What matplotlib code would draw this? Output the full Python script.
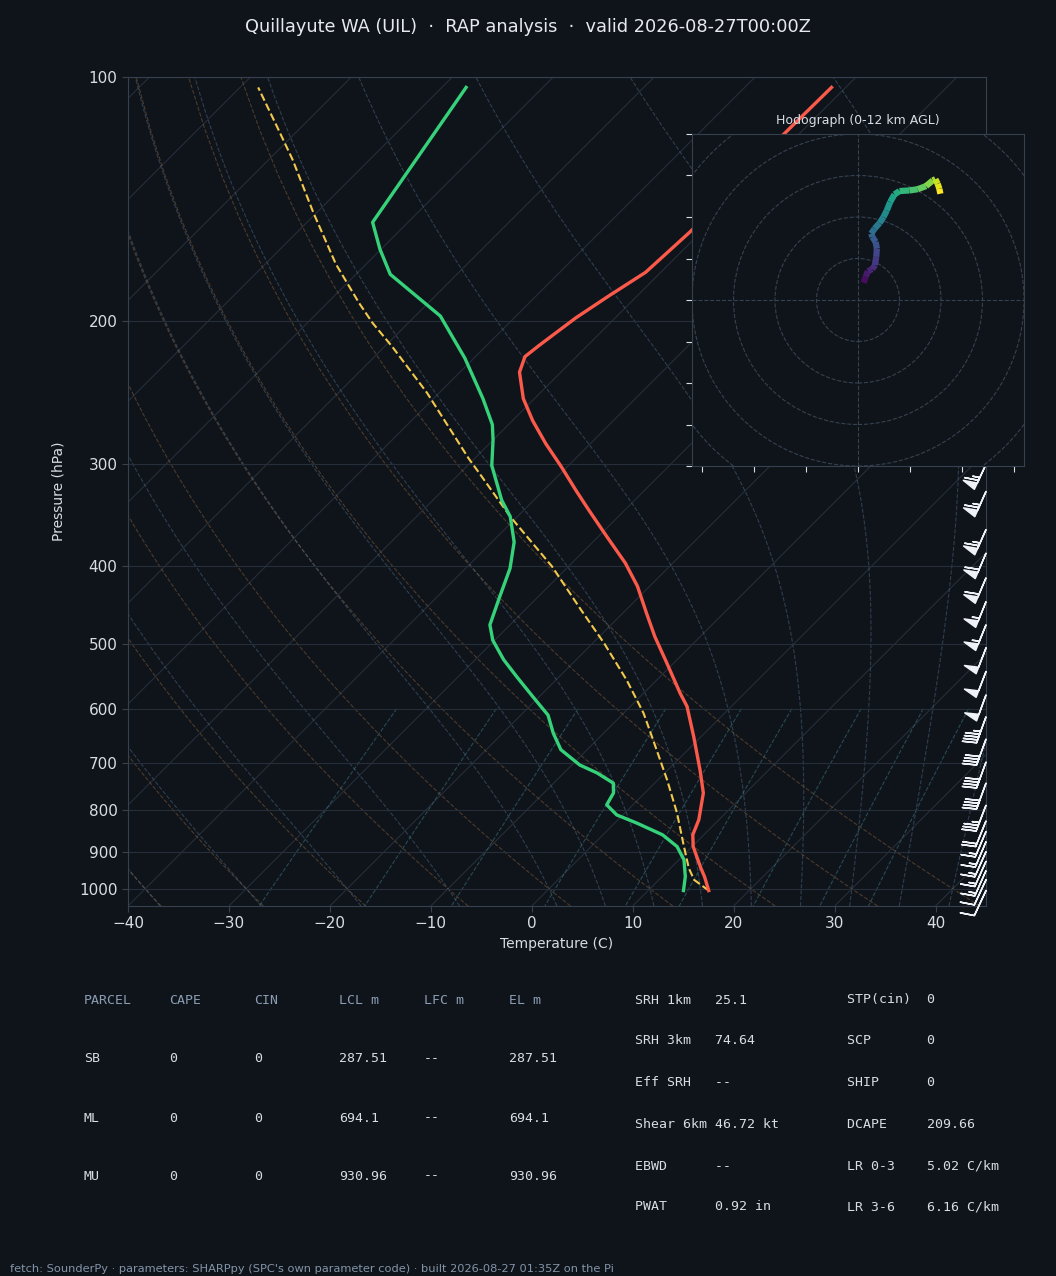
import numpy as np
import matplotlib
matplotlib.use('Agg')
import matplotlib.pyplot as plt
from matplotlib import transforms
from matplotlib.collections import LineCollection
from matplotlib.patches import Circle
from matplotlib.ticker import NullLocator

# ---- sounding values ----
temp_p = [1005, 966, 943, 906, 887, 858, 822, 762, 714, 650, 596, 574, 527, 489, 458,
          424, 397, 368, 342, 323, 302, 283, 265, 249, 231, 221, 214, 198, 186, 174,
          155, 118, 103]
temp_c = [16.0, 14.2, 13.0, 11.1, 10.1, 8.9, 8.0, 5.8, 3.2, -0.7, -4.4, -6.4, -10.7, -14.5,
          -17.6, -21.2, -24.7, -29.2, -33.5, -36.8, -40.6, -44.4, -48.0, -51.1, -54.1,
          -55.1, -54.8, -53.9, -52.8, -51.5, -51.1, -51.5, -51.4]

dew_p = [1005, 966, 921, 887, 858, 830, 811, 788, 762, 741, 720, 704, 674, 643, 611, 594,
         582, 548, 522, 494, 473, 437, 403, 374, 348, 332, 301, 280, 268, 249, 222, 197,
         175, 163, 151, 103]
dew_c = [13.5, 12.3, 10.5, 8.5, 5.9, 2.2, -0.6, -2.6, -3.1, -4.1, -6.7, -9.2, -12.6, -15.0,
         -17.3, -19.1, -20.4, -24.2, -27.2, -30.2, -32.0, -33.8, -35.6, -37.8, -40.7, -43.2,
         -47.6, -50.0, -51.6, -55.1, -60.9, -67.5, -76.6, -80.1, -83.5, -87.6]

parcel_p = [1005, 975, 943, 879, 807, 734, 656, 608, 582, 553, 498, 453, 401, 348, 308,
            295, 245, 215, 201, 190, 170, 147, 126.5, 115, 103]
parcel_c = [16.0, 13.5, 11.8, 8.8, 5.2, 0.9, -4.4, -8.0, -10.3, -13.0, -18.9, -24.5, -31.6,
            -40.7, -48.0, -50.6, -61.2, -69.2, -73.5, -76.8, -83.0, -90.3, -97.6, -102.5,
            -108.2]

# wind barbs (knots, direction wind comes from)
barb_p = [1005, 975, 950, 925, 900, 875, 850, 825, 789, 741, 698, 654, 614, 577, 540,
          505, 473, 443, 414, 386, 361, 324, 300]
barb_spd = [10, 10, 15, 15, 15, 15, 15, 20, 35, 40, 40, 40, 45, 50, 50,
            50, 55, 55, 60, 60, 65, 65, 65]
barb_dir = [205, 205, 204, 204, 204, 203, 203, 202, 201, 200, 200, 200, 200, 200, 201,
            201, 202, 202, 203, 203, 204, 204, 205]

# hodograph (knots) and height (km AGL)
hodo_u = [2.7, 3.7, 4.8, 6.9, 8.2, 8.8, 9.1, 8.5, 6.9, 6.4, 8.0, 10.4, 12.3, 13.9, 15.5,
          17.6, 20.0, 24.8, 28.8, 32.8, 36.0, 37.3, 38.4, 39.2, 39.7]
hodo_v = [8.3, 11.2, 13.9, 14.9, 16.8, 20.8, 24.8, 28.0, 30.4, 32.0, 34.4, 37.1, 40.0, 43.2,
          47.2, 50.9, 52.5, 52.8, 53.4, 54.9, 57.6, 58.2, 56.0, 53.6, 51.2]
hodo_z = [0.0, 0.4, 0.8, 1.2, 1.6, 2.0, 2.5, 3.0, 3.4, 3.8, 4.3, 4.8, 5.3, 5.8, 6.3, 6.8,
          7.3, 7.9, 8.5, 9.1, 9.8, 10.4, 11.0, 11.5, 12.0]

parcel_cols = ['PARCEL', 'CAPE', 'CIN', 'LCL m', 'LFC m', 'EL m']
parcel_rows = [['SB', '0', '0', '287.51', '--', '287.51'],
               ['ML', '0', '0', '694.1', '--', '694.1'],
               ['MU', '0', '0', '930.96', '--', '930.96']]
params_left = [('SRH 1km', '25.1'), ('SRH 3km', '74.64'), ('Eff SRH', '--'),
               ('Shear 6km', '46.72 kt'), ('EBWD', '--'), ('PWAT', '0.92 in')]
params_right = [('STP(cin)', '0'), ('SCP', '0'), ('SHIP', '0'), ('DCAPE', '209.66'),
                ('LR 0-3', '5.02 C/km'), ('LR 3-6', '6.16 C/km')]

BG = '#0f141b'
TXT = '#d8dde4'
SPINE = '#36414f'
GRID = '#262e39'

# thermodynamics for the background reference lines
RD, CP, LV, EPS = 287.04, 1005.7, 2.501e6, 0.622


def sat_vp(tk):
    return 6.112 * np.exp(17.67 * (tk - 273.15) / (tk - 29.65))


def moist_rate(tk, p):
    es = sat_vp(tk)
    rs = EPS * es / (p - es)
    return (RD * tk + LV * rs) / (CP + LV * LV * rs * EPS / (RD * tk * tk))


def moist_adiabat(t0c, p_top, p_bot, n=120):
    out_p, out_t = [], []
    for end, steps in ((p_top, n), (p_bot, 6)):
        lnp = np.linspace(np.log(1000.0), np.log(end), steps)
        tk = t0c + 273.15
        ps, ts = [1000.0], [tk]
        for a, b in zip(lnp[:-1], lnp[1:]):
            h = b - a
            pa, pm, pb = np.exp(a), np.exp(a + h / 2), np.exp(b)
            k1 = moist_rate(tk, pa)
            k2 = moist_rate(tk + h * k1 / 2, pm)
            k3 = moist_rate(tk + h * k2 / 2, pm)
            k4 = moist_rate(tk + h * k3, pb)
            tk = tk + h * (k1 + 2 * k2 + 2 * k3 + k4) / 6
            ps.append(pb)
            ts.append(tk)
        out_p.append(ps)
        out_t.append(ts)
    p = np.concatenate([out_p[1][::-1], out_p[0][1:]])
    t = np.concatenate([out_t[1][::-1], out_t[0][1:]]) - 273.15
    return p, t


fig = plt.figure(figsize=(10.56, 12.76), dpi=100, facecolor=BG)
W, H = 1056.0, 1276.0
ax = fig.add_axes([128 / W, 1 - 906 / H, 858 / W, 829 / H], facecolor=BG)
ax.set_yscale('log')
ax.set_xlim(-40, 45)
ax.set_ylim(1050, 100)
ax.set_autoscale_on(False)

# 45 degree skew of isotherms in pixel space
pos = ax.get_position()
shear = np.arctan((pos.height * H) / (pos.width * W))
skew = ax.transScale + ax.transLimits + transforms.Affine2D().skew(shear, 0) + ax.transAxes

p_bg = np.linspace(1050, 100, 60)
for t0 in np.arange(-130, 50, 10):
    ax.plot([t0, t0], [1050, 100], transform=skew, color=GRID, lw=0.8, zorder=1)
for t0 in np.arange(-40, 46, 10):
    td = (t0 + 273.15) * (p_bg / 1000.0) ** 0.2857 - 273.15
    ax.plot(td, p_bg, transform=skew, color='#a8743f', alpha=0.4, lw=0.8, ls='--', zorder=1)
for t0 in np.concatenate((np.arange(-40, 0, 10), np.arange(0, 46, 5))):
    mp, mt = moist_adiabat(t0, 100.0, 1050.0)
    ax.plot(mt, mp, transform=skew, color='#56718d', alpha=0.45, lw=0.8, ls='--', zorder=1)
p_mix = np.linspace(600, 1050, 30)
for w in [0.0004, 0.001, 0.002, 0.004, 0.007, 0.01, 0.016, 0.024, 0.032]:
    e = p_mix * w / (EPS + w)
    lg = np.log(e / 6.112)
    tdw = 243.5 * lg / (17.67 - lg)
    ax.plot(tdw, p_mix, transform=skew, color='#3f7f8c', alpha=0.5, lw=0.8, ls='--', zorder=1)

ax.plot(parcel_c, parcel_p, transform=skew, color='#f2c94c', lw=1.5, ls='--', zorder=3)
ax.plot(temp_c, temp_p, transform=skew, color='#fb5a4a', lw=2.4, zorder=4)
ax.plot(dew_c, dew_p, transform=skew, color='#35d27a', lw=2.4, zorder=4)

# wind barbs on the right edge
bd = np.radians(barb_dir)
bs = np.array(barb_spd, dtype=float)
bu = -bs * np.sin(bd)
bv = -bs * np.cos(bd)
ax.barbs(np.ones(len(barb_p)), barb_p, bu, bv, transform=ax.get_yaxis_transform(),
         length=6.3, sizes=dict(height=0.5, spacing=0.11, width=0.25),
         color='#eef2f6', linewidth=1.1, clip_on=False, zorder=5)

ax.set_yticks([100, 200, 300, 400, 500, 600, 700, 800, 900, 1000])
ax.set_yticklabels(['100', '200', '300', '400', '500', '600', '700', '800', '900', '1000'])
ax.yaxis.set_minor_locator(NullLocator())
ax.set_xticks(np.arange(-40, 41, 10))
ax.grid(axis='y', color=GRID, lw=0.8)
ax.tick_params(colors=SPINE, labelcolor=TXT, labelsize=11, length=4)
for s in ax.spines.values():
    s.set_color(SPINE)
ax.set_xlabel('Temperature (C)', color=TXT, fontsize=10, labelpad=4)
ax.set_ylabel('Pressure (hPa)', color=TXT, fontsize=10, labelpad=10)

# hodograph inset
axh = fig.add_axes([692 / W, 1 - 466 / H, 332 / W, 332 / H], facecolor=BG)
axh.set_zorder(6)
axh.set_xlim(-80, 80)
axh.set_ylim(-80, 80)
for r in [20, 40, 60, 80, 100]:
    axh.add_patch(Circle((0, 0), r, fill=False, ls='--', lw=0.8, color=SPINE))
axh.axhline(0, color=SPINE, ls='--', lw=0.8)
axh.axvline(0, color=SPINE, ls='--', lw=0.8)
pts = np.column_stack([hodo_u, hodo_v]).reshape(-1, 1, 2)
segs = np.concatenate([pts[:-1], pts[1:]], axis=1)
lc = LineCollection(segs, cmap='viridis', linewidths=4.5, capstyle='butt')
lc.set_array(np.array(hodo_z[1:]))
lc.set_clim(0, 12)
axh.add_collection(lc)
axh.set_xticks([-75, -50, -25, 0, 25, 50, 75])
axh.set_yticks(np.arange(-80, 81, 20))
axh.set_xticklabels([])
axh.set_yticklabels([])
axh.tick_params(colors=TXT, length=4)
for s in axh.spines.values():
    s.set_color(SPINE)
axh.set_title('Hodograph (0-12 km AGL)', color=TXT, fontsize=9, pad=7)

fig.text(0.5, 1 - 27 / H, 'Quillayute WA (UIL)  \u00b7  RAP analysis  \u00b7  valid 2026-08-27T00:00Z',
         ha='center', va='center', color='#e6e9ee', fontsize=12.8)

# parcel table
col_x = [84, 169, 254, 339, 424, 509]
row_y = [1000, 1059, 1118, 1176]
for cx, name in zip(col_x, parcel_cols):
    fig.text(cx / W, 1 - row_y[0] / H, name, family='DejaVu Sans Mono', fontsize=9.5,
             color='#8b9db3', va='center')
for ry, row in zip(row_y[1:], parcel_rows):
    for cx, val in zip(col_x, row):
        fig.text(cx / W, 1 - ry / H, val, family='DejaVu Sans Mono', fontsize=9.5,
                 color=TXT, va='center')

# parameter table
par_y = [1000, 1041, 1083, 1124, 1166, 1207]
for py, (k1, v1), (k2, v2) in zip(par_y, params_left, params_right):
    fig.text(635 / W, 1 - py / H, f'{k1:<10}{v1}', family='DejaVu Sans Mono', fontsize=9.5,
             color=TXT, va='center')
    fig.text(847 / W, 1 - py / H, f'{k2:<10}{v2}', family='DejaVu Sans Mono', fontsize=9.5,
             color=TXT, va='center')

fig.text(10 / W, 1 - 1269 / H,
         "fetch: SounderPy \u00b7 parameters: SHARPpy (SPC's own parameter code) \u00b7 built 2026-08-27 01:35Z on the Pi",
         color='#8394a8', fontsize=8.2, va='center')

fig.savefig('out.png', dpi=100, facecolor=BG)
